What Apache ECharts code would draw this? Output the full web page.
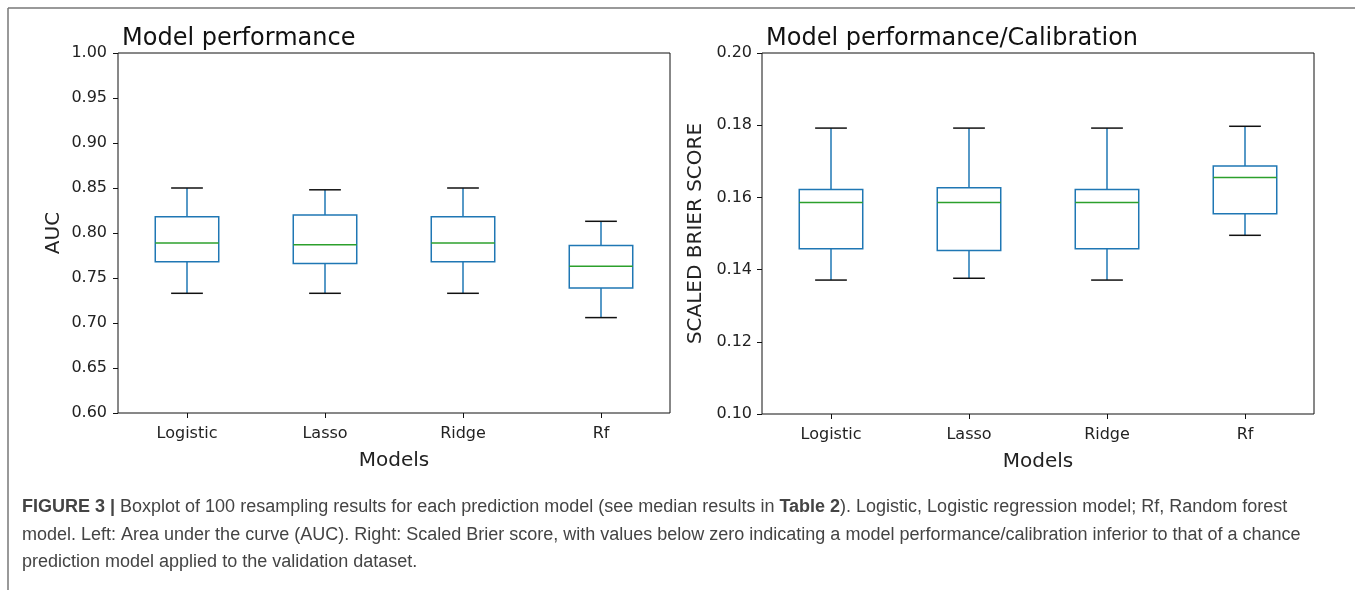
<!DOCTYPE html>
<html>
<head>
<meta charset="utf-8">
<script src="https://cdn.jsdelivr.net/npm/echarts@6/dist/echarts.min.js"></script>
<style>html,body{margin:0;padding:0;background:#fff}#c{width:1355px;height:590px}</style>
</head>
<body>
<div id="c"></div>
<script>
// ---- data ----
var categories = ['Logistic', 'Lasso', 'Ridge', 'Rf'];
// box statistics: whisker low, Q1, median, Q3, whisker high
var aucLow    = [0.733, 0.733, 0.733, 0.706];
var aucQ1     = [0.768, 0.766, 0.768, 0.739];
var aucMedian = [0.789, 0.787, 0.789, 0.763];
var aucQ3     = [0.818, 0.820, 0.818, 0.786];
var aucHigh   = [0.850, 0.848, 0.850, 0.813];

var brierLow    = [0.1371, 0.1376, 0.1371, 0.1495];
var brierQ1     = [0.1458, 0.1453, 0.1458, 0.1555];
var brierMedian = [0.1586, 0.1586, 0.1586, 0.1655];
var brierQ3     = [0.1622, 0.1627, 0.1622, 0.1687];
var brierHigh   = [0.1792, 0.1792, 0.1792, 0.1797];

var aucTicks = {min: 0.60, max: 1.00, interval: 0.05};
var brierTicks = {min: 0.10, max: 0.20, interval: 0.02};

function rows(lo, q1, md, q3, hi) {
  return categories.map(function (c, i) { return [i, lo[i], q1[i], md[i], q3[i], hi[i]]; });
}

var BLUE = '#1f77b4', GREEN = '#2ca02c';
function renderBox(params, api) {
  var i = api.value(0);
  var band = api.size([1, 0])[0];
  var bw = band * 0.46, cw = bw * 0.5;
  var pLo = api.coord([i, api.value(1)]);
  var pQ1 = api.coord([i, api.value(2)]);
  var pMd = api.coord([i, api.value(3)]);
  var pQ3 = api.coord([i, api.value(4)]);
  var pHi = api.coord([i, api.value(5)]);
  var x = pQ1[0];
  var blue = {stroke: BLUE, lineWidth: 1.5, fill: null};
  return {
    type: 'group',
    children: [
      {type: 'line', shape: {x1: x, y1: pQ3[1], x2: x, y2: pHi[1]}, style: blue},
      {type: 'line', shape: {x1: x, y1: pQ1[1], x2: x, y2: pLo[1]}, style: blue},
      {type: 'rect', shape: {x: x - bw / 2, y: pQ3[1], width: bw, height: pQ1[1] - pQ3[1]}, style: {stroke: BLUE, lineWidth: 1.5, fill: 'none'}},
      {type: 'line', shape: {x1: x - bw / 2, y1: pMd[1], x2: x + bw / 2, y2: pMd[1]}, style: {stroke: GREEN, lineWidth: 1.5}},
      {type: 'line', shape: {x1: x - cw / 2, y1: pHi[1], x2: x + cw / 2, y2: pHi[1]}, style: {stroke: '#111', lineWidth: 1.5}},
      {type: 'line', shape: {x1: x - cw / 2, y1: pLo[1], x2: x + cw / 2, y2: pLo[1]}, style: {stroke: '#111', lineWidth: 1.5}}
    ]
  };
}

var FONT = 'DejaVu Sans';
function xAx(idx) {
  return {
    type: 'category', gridIndex: idx, data: categories,
    axisLine: {show: false},
    axisTick: {show: true, alignWithLabel: true, length: 5, lineStyle: {color: '#111', width: 1}},
    axisLabel: {fontFamily: FONT, fontSize: 16, color: '#222', margin: 13},
    splitLine: {show: false},
    name: 'Models', nameLocation: 'middle', nameGap: 38,
    nameTextStyle: {fontFamily: FONT, fontSize: 20, color: '#222'}
  };
}
function yAx(idx, t, name, gap, margin) {
  return {
    type: 'value', gridIndex: idx, min: t.min, max: t.max, interval: t.interval,
    axisLine: {show: false},
    axisTick: {show: true, length: 5, lineStyle: {color: '#111', width: 1}},
    axisLabel: {fontFamily: FONT, fontSize: 16, color: '#222', margin: margin,
      formatter: function (v) { return v.toFixed(2); }},
    splitLine: {show: false},
    name: name, nameLocation: 'middle', nameGap: gap, nameRotate: 90,
    nameTextStyle: {fontFamily: FONT, fontSize: 20, color: '#222'}
  };
}

var CAP = 'Liberation Sans';
var rich = {
  b: {fontFamily: CAP, fontSize: 18, fontWeight: 'bold', color: '#222'},
  n: {fontFamily: CAP, fontSize: 18, color: '#444'}
};
function capText(y, txt) {
  return {type: 'text', left: 22, top: y, style: {text: txt, rich: rich, fontFamily: CAP, fontSize: 18, fill: '#444'}};
}

var chart = echarts.init(document.getElementById('c'), null, {renderer: 'canvas'});
chart.setOption({
  animation: false,
  backgroundColor: '#fff',
  title: [
    {text: 'Model performance', left: 117, top: 22, textStyle: {fontFamily: FONT, fontSize: 24, fontWeight: 'normal', color: '#111'}},
    {text: 'Model performance/Calibration', left: 761, top: 22, textStyle: {fontFamily: FONT, fontSize: 24, fontWeight: 'normal', color: '#111'}}
  ],
  grid: [
    {left: 118, top: 53, width: 552, height: 360, show: true, borderColor: '#111', borderWidth: 1, backgroundColor: 'transparent'},
    {left: 762, top: 53, width: 552, height: 361, show: true, borderColor: '#111', borderWidth: 1, backgroundColor: 'transparent'}
  ],
  xAxis: [xAx(0), xAx(1)],
  yAxis: [yAx(0, aucTicks, 'AUC', 54, 11), yAx(1, brierTicks, 'SCALED BRIER SCORE', 56, 10)],
  series: [
    {type: 'custom', xAxisIndex: 0, yAxisIndex: 0, renderItem: renderBox,
      encode: {x: 0, y: [1, 2, 3, 4, 5]}, data: rows(aucLow, aucQ1, aucMedian, aucQ3, aucHigh)},
    {type: 'custom', xAxisIndex: 1, yAxisIndex: 1, renderItem: renderBox,
      encode: {x: 0, y: [1, 2, 3, 4, 5]}, data: rows(brierLow, brierQ1, brierMedian, brierQ3, brierHigh)}
  ],
  graphic: [
    {type: 'line', shape: {x1: 8, y1: 8, x2: 1355, y2: 8}, style: {stroke: '#777', lineWidth: 1.5}},
    {type: 'line', shape: {x1: 8, y1: 8, x2: 8, y2: 590}, style: {stroke: '#777', lineWidth: 1.5}},
    capText(498, '{b|FIGURE 3 |}{n| Boxplot of 100 resampling results for each prediction model (see median results in }{b|Table 2}{n|). Logistic, Logistic regression model; Rf, Random forest}'),
    capText(526, '{n|model. Left: Area under the curve (AUC). Right: Scaled Brier score, with values below zero indicating a model performance/calibration inferior to that of a chance}'),
    capText(553, '{n|prediction model applied to the validation dataset.}')
  ]
});
</script>
</body>
</html>
